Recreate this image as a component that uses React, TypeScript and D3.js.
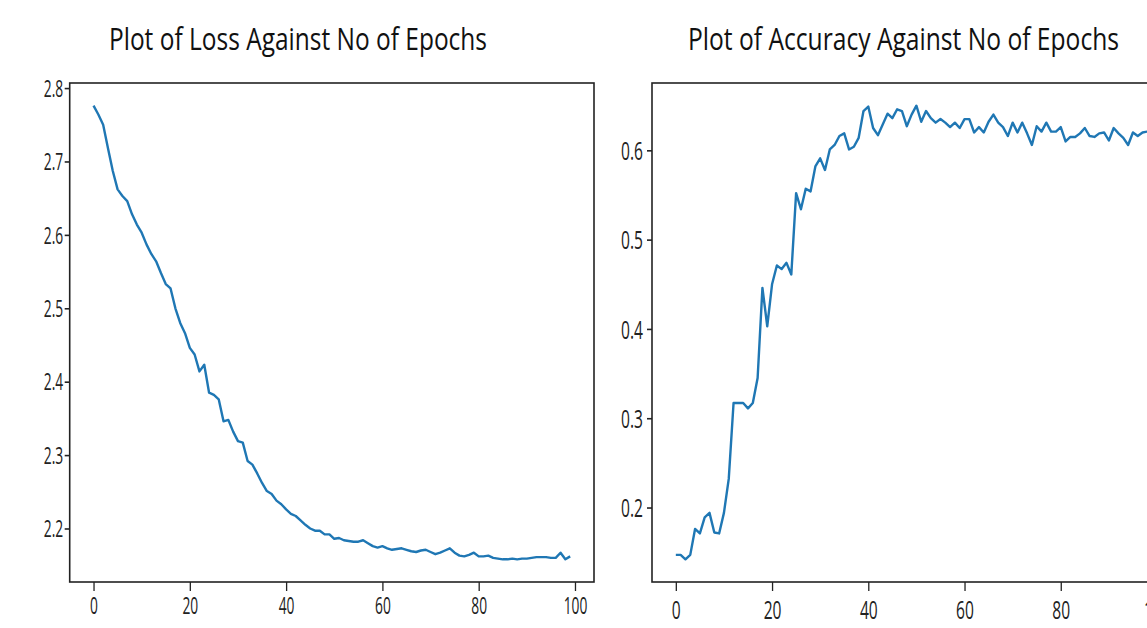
import React from 'react'
import * as d3 from 'd3'

const epochs = d3.range(100)

const lossValues = [
  2.776, 2.764, 2.75, 2.718, 2.687, 2.662, 2.653, 2.646, 2.628, 2.614,
  2.603, 2.587, 2.574, 2.564, 2.548, 2.533, 2.527, 2.5, 2.48, 2.466,
  2.446, 2.437, 2.414, 2.423, 2.385, 2.382, 2.376, 2.346, 2.348, 2.332,
  2.319, 2.317, 2.292, 2.287, 2.275, 2.262, 2.251, 2.247, 2.238, 2.233,
  2.226, 2.22, 2.217, 2.211, 2.205, 2.2, 2.197, 2.197, 2.192, 2.192,
  2.186, 2.187, 2.184, 2.183, 2.182, 2.182, 2.184, 2.18, 2.176, 2.174,
  2.176, 2.173, 2.171, 2.172, 2.173, 2.171, 2.169, 2.168, 2.17, 2.171,
  2.168, 2.165, 2.167, 2.17, 2.173, 2.167, 2.163, 2.162, 2.164, 2.167,
  2.162, 2.162, 2.163, 2.16, 2.159, 2.158, 2.158, 2.159, 2.158, 2.159,
  2.159, 2.16, 2.161, 2.161, 2.161, 2.16, 2.16, 2.167, 2.158, 2.162,
]

const accuracyValues = [
  0.147, 0.147, 0.142, 0.147, 0.176, 0.171, 0.189, 0.194, 0.172, 0.171,
  0.194, 0.232, 0.317, 0.317, 0.317, 0.311, 0.317, 0.345, 0.446, 0.403,
  0.45, 0.471, 0.467, 0.474, 0.461, 0.552, 0.534, 0.557, 0.554, 0.582,
  0.591, 0.578, 0.601, 0.606, 0.616, 0.619, 0.601, 0.604, 0.614, 0.644,
  0.649, 0.625, 0.617, 0.629, 0.641, 0.636, 0.646, 0.644, 0.627, 0.64,
  0.65, 0.632, 0.644, 0.636, 0.631, 0.635, 0.631, 0.626, 0.631, 0.625,
  0.635, 0.635, 0.62, 0.626, 0.62, 0.632, 0.64, 0.631, 0.626, 0.616,
  0.631, 0.62, 0.631, 0.619, 0.606, 0.627, 0.621, 0.631, 0.621, 0.621,
  0.626, 0.61, 0.615, 0.615, 0.619, 0.625, 0.616, 0.615, 0.619, 0.62,
  0.611, 0.625, 0.619, 0.614, 0.606, 0.62, 0.616, 0.62, 0.621, 0.619,
]

const xTicks = [0, 20, 40, 60, 80, 100]
const lossTicks = [2.2, 2.3, 2.4, 2.5, 2.6, 2.7, 2.8]
const accuracyTicks = [0.2, 0.3, 0.4, 0.5, 0.6]

const width = 1147
const height = 628
const top = 83
const bottom = 582
const squeeze = 0.6
const font = "'Open Sans', 'DejaVu Sans', sans-serif"

// matplotlib style 5% margin on both sides of the data
const padded = (values: number[]): [number, number] => {
  const [lo, hi] = d3.extent(values) as [number, number]
  const m = (hi - lo) * 0.05
  return [lo - m, hi + m]
}

type PanelProps = {
  title: string
  titleX: [number, number]
  left: number
  right: number
  values: number[]
  yTicks: number[]
  tickFont: number
  yGap: number
  xBaseline: number
}

const Panel = ({ title, titleX, left, right, values, yTicks, tickFont, yGap, xBaseline }: PanelProps) => {
  const xRef = React.useRef<SVGGElement>(null)
  const yRef = React.useRef<SVGGElement>(null)

  const x = d3.scaleLinear().domain(padded(epochs)).range([left, right])
  const y = d3.scaleLinear().domain(padded(values)).range([bottom, top])

  const line = d3
    .line<number>()
    .x((_, i) => x(epochs[i]))
    .y((d) => y(d))

  React.useEffect(() => {
    const gx = d3.select(xRef.current!)
    gx.call(d3.axisBottom(x).tickValues(xTicks).tickFormat(d3.format('d')).tickSizeInner(9).tickSizeOuter(0))
    gx.select('.domain').remove()
    gx.selectAll('line').attr('stroke', '#222').attr('stroke-width', 1.3)
    gx.selectAll('text')
      .attr('y', xBaseline)
      .attr('dy', 0)
      .attr('transform', `scale(${squeeze},1)`)
      .attr('fill', '#222')
      .style('font-size', `${tickFont}px`)
      .style('font-family', font)

    const gy = d3.select(yRef.current!)
    gy.call(d3.axisLeft(y).tickValues(yTicks).tickFormat(d3.format('.1f')).tickSizeInner(5).tickSizeOuter(0))
    gy.select('.domain').remove()
    gy.selectAll('line').attr('stroke', '#222').attr('stroke-width', 1.6)
    gy.selectAll('text')
      .attr('x', -yGap / squeeze)
      .attr('dy', '0.36em')
      .attr('transform', `scale(${squeeze},1)`)
      .attr('fill', '#222')
      .style('font-size', `${tickFont}px`)
      .style('font-family', font)
  })

  return (
    <g>
      <text
        x={titleX[0]}
        y={50}
        textLength={titleX[1] - titleX[0]}
        lengthAdjust="spacingAndGlyphs"
        fontFamily={font}
        fontSize={31}
        fill="#111"
      >
        {title}
      </text>
      <path d={line(values) ?? ''} fill="none" stroke="#1f77b4" strokeWidth={2.4} strokeLinejoin="round" />
      <rect x={left} y={top} width={right - left} height={bottom - top} fill="none" stroke="#222" strokeWidth={1.6} />
      <g ref={xRef} transform={`translate(0,${bottom})`} />
      <g ref={yRef} transform={`translate(${left},0)`} />
    </g>
  )
}

const App = () => (
  <svg width={width} height={height} style={{ position: 'absolute', left: 0, top: 0, background: '#fff' }}>
    <Panel
      title="Plot of Loss Against No of Epochs"
      titleX={[109, 487]}
      left={69.7}
      right={594}
      values={lossValues}
      yTicks={lossTicks}
      tickFont={23}
      yGap={6.5}
      xBaseline={32}
    />
    <Panel
      title="Plot of Accuracy Against No of Epochs"
      titleX={[688, 1119]}
      left={652}
      right={1176}
      values={accuracyValues}
      yTicks={accuracyTicks}
      tickFont={26}
      yGap={9}
      xBaseline={37}
    />
  </svg>
)

export default App
